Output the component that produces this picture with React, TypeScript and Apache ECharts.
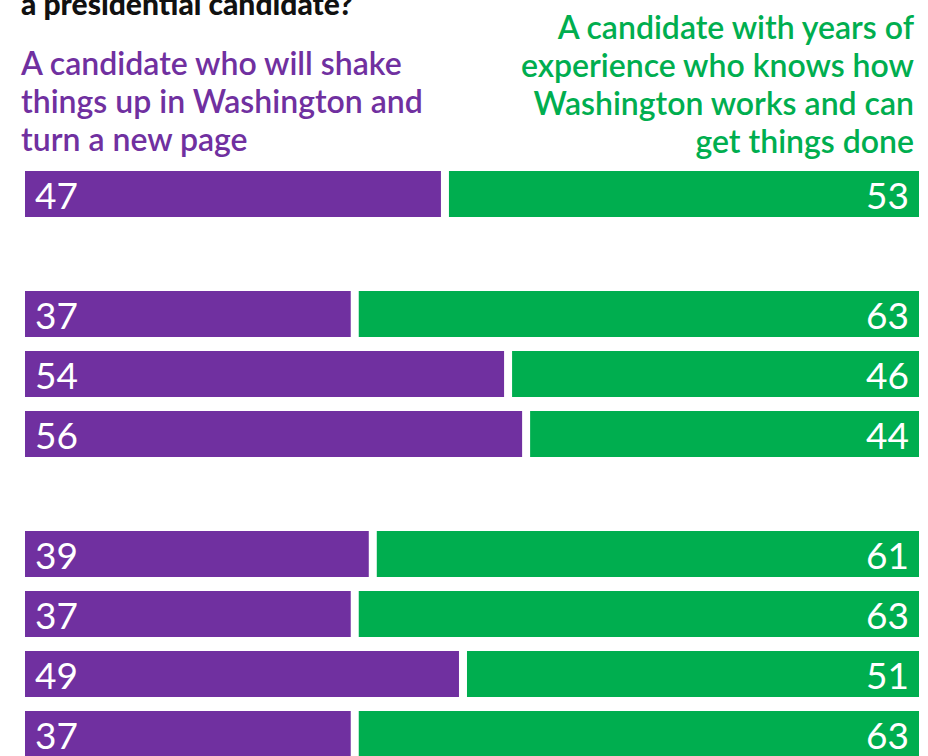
import React, { useEffect, useRef } from "react";
import * as echarts from "echarts";

const categories = ["Total", "gap-1", "Group 1", "Group 2", "Group 3", "gap-2", "Group 4", "Group 5", "Group 6", "Group 7"];
const shakeUp = [47, null, 37, 54, 56, null, 39, 37, 49, 37];
const experience = [53, null, 63, 46, 44, null, 61, 63, 51, 63];

const titleLine = "a presidential candidate?";
const shakeUpLabel = "A candidate who will shake\nthings up in Washington and\nturn a new page";
const experienceLabel = "A candidate with years of\nexperience who knows how\nWashington works and can\nget things done";

const PURPLE = "#7030A0";
const GREEN = "#00AE4F";
const FONT = "Lato, 'Noto Sans', sans-serif";

export default function App() {
  const ref = useRef<HTMLDivElement>(null);
  useEffect(() => {
    if (!ref.current) return;
    const chart = echarts.init(ref.current, undefined, { renderer: "svg" });
    const barCommon = {
      type: "bar",
      stack: "total",
      barWidth: 54,
      itemStyle: { borderColor: "#ffffff", borderWidth: 4 },
    };
    chart.setOption({
      animation: false,
      backgroundColor: "#ffffff",
      grid: { left: 21, top: 164, width: 902, height: 600, outerBoundsMode: "none" },
      xAxis: { type: "value", min: 0, max: 100, show: false },
      yAxis: {
        type: "category",
        data: categories,
        inverse: true,
        show: false,
      },
      graphic: [
        {
          type: "text",
          left: 21,
          top: -12,
          style: { text: titleLine, font: `900 30px ${FONT}`, fill: "#111111" },
        },
        {
          type: "text",
          x: 21,
          y: 43,
          style: {
            text: shakeUpLabel,
            font: `600 32px ${FONT}`,
            fill: PURPLE,
            lineHeight: 38,
            verticalAlign: "top",
          },
        },
        {
          type: "text",
          x: 914,
          y: 7,
          style: {
            text: experienceLabel,
            font: `600 32px ${FONT}`,
            fill: GREEN,
            lineHeight: 38,
            align: "right",
            verticalAlign: "top",
          },
        },
      ],
      series: [
        {
          ...barCommon,
          name: "Shake things up",
          data: shakeUp,
          color: PURPLE,
          itemStyle: { ...barCommon.itemStyle, color: PURPLE },
          label: {
            show: true,
            position: "insideLeft",
            distance: 14,
            color: "#ffffff",
            fontFamily: FONT,
            fontSize: 37,
          },
        },
        {
          ...barCommon,
          name: "Years of experience",
          data: experience,
          color: GREEN,
          itemStyle: { ...barCommon.itemStyle, color: GREEN },
          label: {
            show: true,
            position: "insideRight",
            distance: 14,
            color: "#ffffff",
            fontFamily: FONT,
            fontSize: 37,
          },
        },
      ],
    });
    return () => chart.dispose();
  }, []);
  return (
    <div
      ref={ref}
      style={{ position: "fixed", left: 0, top: 0, width: 928, height: 756 }}
    />
  );
}
